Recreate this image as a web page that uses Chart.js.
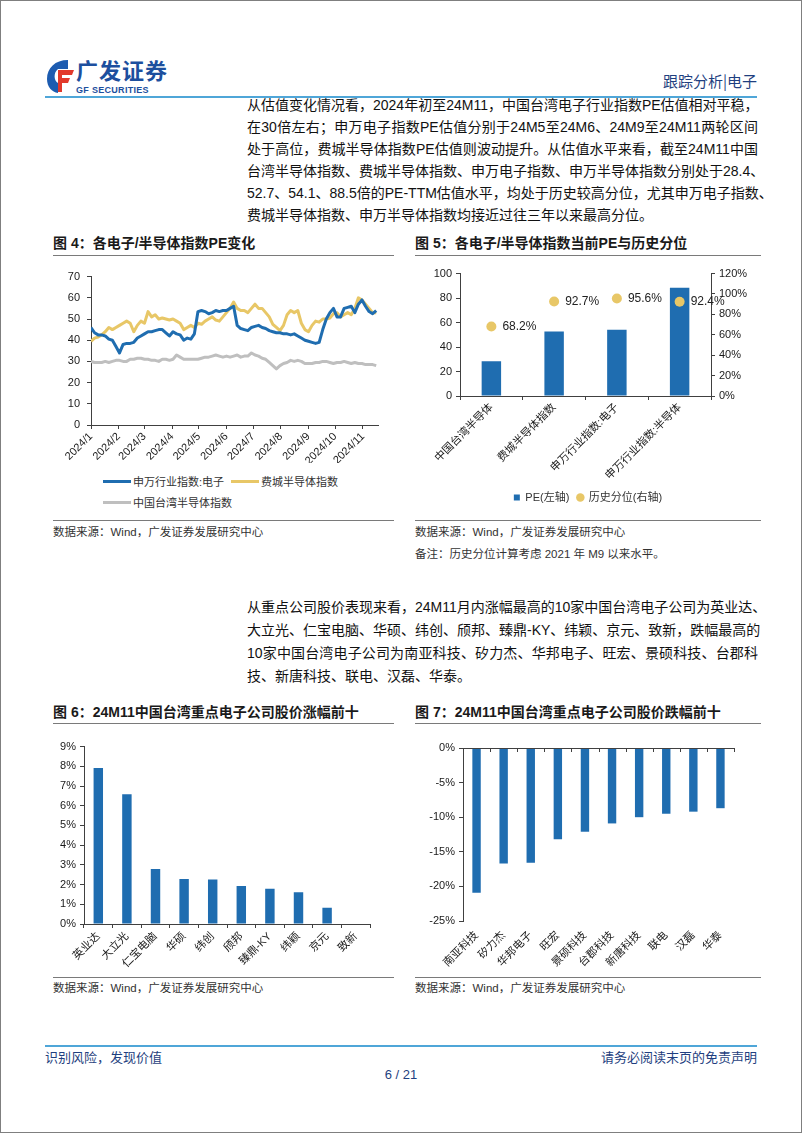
<!DOCTYPE html>
<html lang="zh-CN">
<head>
<meta charset="utf-8">
<title>跟踪分析|电子</title>
<script src="https://cdn.jsdelivr.net/npm/chart.js@4.4.1/dist/chart.umd.min.js"></script>
<style>
  html, body { margin: 0; padding: 0; background: #fff; }
  #page { position: relative; width: 800px; height: 1131px; border: 1px solid #7f7f7f; overflow: hidden;
          font-family: "Liberation Sans", "Noto Sans CJK SC", sans-serif; color: #111; }
  .a { position: absolute; white-space: nowrap; }
  .ln { position: absolute; left: 246px; width: 511px; height: 20px; font-size: 14px; line-height: 20px;
        white-space: nowrap; text-align: justify; text-align-last: justify; }
  .ln.last { text-align: left; text-align-last: left; }
  .ttl { position: absolute; font-size: 14px; font-weight: bold; line-height: 18px; color: #1a1a1a; white-space: nowrap; }
  .rule { position: absolute; height: 0; border-top: 1px solid #7a7a7a; }
  .src { position: absolute; font-size: 11.5px; line-height: 16px; color: #333; white-space: nowrap; }
  .blue { position: absolute; height: 2px; background: #4fa6d8; }
  .foot { position: absolute; font-size: 13px; line-height: 16px; color: #1f3f80; white-space: nowrap; }
  canvas { position: absolute; }
  #lg4 { position: absolute; left: 102px; top: 472px; display: grid; grid-template-columns: 128px 140px; row-gap: 5px;
         font-size: 11px; color: #333; }
  #lg4 .it { display: flex; align-items: center; height: 16px; white-space: nowrap; }
  #lg4 .sw { width: 28px; height: 3px; margin-right: 2px; flex: none; }
</style>
</head>
<body>
<div id="page">

  <!-- 页眉 -->
  <svg class="a" style="left:44px;top:57px" width="30" height="36" viewBox="0 0 30 36">
    <path d="M23 2 C10 2 2 10 2 21 C2 29 7 34 13 35 L13 25 C9 23 8 15 13 11 L23 11 Z" fill="#1d5cb0"/>
    <path d="M13 12 L29 12 L27 17 L17 17 L17 20 L25 20 L23 25 L17 25 L17 34 L13 34 Z" fill="#e2392b"/>
  </svg>
  <div class="a" style="left:75px;top:58px;font-size:22px;font-weight:bold;color:#1d4f9e;line-height:26px;letter-spacing:1px">广发证券</div>
  <div class="a" style="left:75px;top:84px;font-size:9px;font-weight:bold;color:#1d4f9e;line-height:10px;letter-spacing:0.3px">GF SECURITIES</div>
  <div class="a" style="left:662px;top:70px;font-size:15px;color:#1f3f80;line-height:20px;font-family:'Noto Sans CJK SC'">跟踪分析|电子</div>
  <div class="blue" style="left:44px;top:95px;width:712px"></div>

  <!-- 正文1 -->
  <div class="ln" style="top:94px">从估值变化情况看，2024年初至24M11，中国台湾电子行业指数PE估值相对平稳，</div>
  <div class="ln" style="top:116px">在30倍左右；申万电子指数PE估值分别于24M5至24M6、24M9至24M11两轮区间</div>
  <div class="ln" style="top:138px">处于高位，费城半导体指数PE估值则波动提升。从估值水平来看，截至24M11中国</div>
  <div class="ln" style="top:160px">台湾半导体指数、费城半导体指数、申万电子指数、申万半导体指数分别处于28.4、</div>
  <div class="ln" style="top:182px">52.7、54.1、88.5倍的PE-TTM估值水平，均处于历史较高分位，尤其申万电子指数、</div>
  <div class="ln last" style="top:204px">费城半导体指数、申万半导体指数均接近过往三年以来最高分位。</div>

  <!-- 图4 / 图5 标题 -->
  <div class="ttl" style="left:52px;top:233px">图 4：各电子/半导体指数PE变化</div>
  <div class="rule" style="left:52px;top:254px;width:341px"></div>
  <div class="ttl" style="left:414px;top:233px">图 5：各电子/半导体指数当前PE与历史分位</div>
  <div class="rule" style="left:414px;top:254px;width:346px"></div>

  <canvas id="c4" width="340" height="200" style="left:52px;top:262px"></canvas>
  <div id="lg4"></div>
  <canvas id="c5" width="346" height="250" style="left:414px;top:262px"></canvas>

  <div class="rule" style="left:52px;top:519px;width:341px"></div>
  <div class="src" style="left:52px;top:523px">数据来源：Wind，广发证券发展研究中心</div>
  <div class="rule" style="left:414px;top:519px;width:346px"></div>
  <div class="src" style="left:414px;top:523px">数据来源：Wind，广发证券发展研究中心</div>
  <div class="src" style="left:414px;top:545px">备注：历史分位计算考虑 2021 年 M9 以来水平。</div>

  <!-- 正文2 -->
  <div class="ln" style="top:596px">从重点公司股价表现来看，24M11月内涨幅最高的10家中国台湾电子公司为英业达、</div>
  <div class="ln" style="top:619px">大立光、仁宝电脑、华硕、纬创、颀邦、臻鼎-KY、纬颖、京元、致新，跌幅最高的</div>
  <div class="ln" style="top:642px">10家中国台湾电子公司为南亚科技、矽力杰、华邦电子、旺宏、景硕科技、台郡科</div>
  <div class="ln last" style="top:665px">技、新唐科技、联电、汉磊、华泰。</div>

  <!-- 图6 / 图7 -->
  <div class="ttl" style="left:52px;top:702px">图 6：24M11中国台湾重点电子公司股价涨幅前十</div>
  <div class="rule" style="left:52px;top:722px;width:341px"></div>
  <div class="ttl" style="left:414px;top:702px">图 7：24M11中国台湾重点电子公司股价跌幅前十</div>
  <div class="rule" style="left:414px;top:722px;width:346px"></div>

  <canvas id="c6" width="340" height="235" style="left:52px;top:735px"></canvas>
  <canvas id="c7" width="346" height="235" style="left:414px;top:735px"></canvas>

  <div class="rule" style="left:52px;top:976px;width:341px"></div>
  <div class="src" style="left:52px;top:979px">数据来源：Wind，广发证券发展研究中心</div>
  <div class="rule" style="left:414px;top:976px;width:346px"></div>
  <div class="src" style="left:414px;top:979px">数据来源：Wind，广发证券发展研究中心</div>

  <!-- 页脚 -->
  <div class="blue" style="left:44px;top:1044px;width:712px"></div>
  <div class="foot" style="left:44px;top:1049px">识别风险，发现价值</div>
  <div class="foot" style="right:44px;top:1049px">请务必阅读末页的免责声明</div>
  <div class="foot" style="left:0;width:800px;text-align:center;top:1066px">6 / 21</div>
</div>

<script>
// ------------------------------------------------------------
// 数据
// ------------------------------------------------------------

// 图4：横轴是2024年的第几天（1月1日 = 0）
var peDays = [0,4,8,12,16,20,24,28,32,36,40,44,48,52,56,60,64,68,72,76,
              80,84,88,92,96,100,104,108,112,116,120,124,128,132,136,140,144,148,152,156,
              160,164,168,172,176,180,184,188,192,196,200,204,208,212,216,220,224,228,232,236,
              240,244,248,252,256,260,264,268,272,276,280,284,288,292,296,300,304,308,312,316,320]
var peSwElec = [46,43.5,42.5,42.5,42,40.5,40,37,34,38,38.5,38.5,39,41,42,43,44,44,44.5,45,
                45,43.5,42,44,43,42.5,40,41,40.5,43,53.5,54,53.5,52.5,53,54,53.5,54,54,55,
                56,47,45.5,45,44.5,46,46.5,47,46,45.5,44.5,44,43.5,43.5,43,43,42.5,43,42,41,
                40,39.5,39,38.5,39,45,50,53,55,51,51,55,55.5,56,53,57,59,56,53.5,52.5,54]
var pePhilly = [39.5,41,41.5,42.5,44,46,45,46,47,48,49,48,44,47,49,48,53.5,51,52,50,
                50.5,50,49.5,50,49,48,45,46,47,46,48,47.5,49,50,51,49.5,49,51,53,55,
                58,55,54,54,53,55,57,55,55,53,51,47.5,46,44.5,47,52,54,53,54,48,
                45,44,47,49,48.5,50,50,50.5,52.5,53,51,52,53,52,55,60,59,57,55,53,53]
var peTwSemi = [30,29.5,29.5,29.5,30,29.5,30,30.5,30.5,30,30,31,31,31.5,31.5,31,31,30.5,30.5,30,
                31,31,30.5,31,33,32,31,31,31,31,31,31.5,32,32,32.5,33,32.5,32,32.5,32,
                32.5,33,32,32.5,32.5,34,33,32.5,31.5,31,29.5,28,26.5,28,29,29.5,30.5,30,30.5,30,
                29,29,29,29.5,29.5,30,30,29.5,29,29.5,29.5,30,29.5,29,29.5,29,29,28.5,28.5,28.5,28]
var monthStarts = [0,31,60,91,121,152,182,213,244,274,305]
var monthNames = ['2024/1','2024/2','2024/3','2024/4','2024/5','2024/6','2024/7','2024/8','2024/9','2024/10','2024/11']
var peNames = ['申万行业指数:电子','费城半导体指数','中国台湾半导体指数']

// 图5：当前PE与历史分位
var idxNames = ['中国台湾半导体','费城半导体指数','申万行业指数:电子','申万行业指数:半导体']
var idxPE = [28.4, 52.7, 54.1, 88.5]
var idxPct = [68.2, 92.7, 95.6, 92.4]

// 图6：涨幅前十（%）
var upNames = ['英业达','大立光','仁宝电脑','华硕','纬创','颀邦','臻鼎-KY','纬颖','京元','致新']
var upPct = [7.92, 6.58, 2.79, 2.28, 2.26, 1.93, 1.79, 1.61, 0.82, 0.02]

// 图7：跌幅前十（%）
var downNames = ['南亚科技','矽力杰','华邦电子','旺宏','景硕科技','台郡科技','新唐科技','联电','汉磊','华泰']
var downPct = [-20.9, -16.7, -16.6, -13.2, -12.1, -10.9, -10.0, -9.5, -9.2, -8.7]

// 颜色
var blue = '#1f6db0'
var gold = '#e8c767'
var grey = '#bfbfbf'
var axisCol = '#404040'

Chart.defaults.font.family = '"Liberation Sans", "Noto Sans CJK SC", sans-serif'
Chart.defaults.font.size = 11
Chart.defaults.color = '#1a1a1a'
Chart.defaults.animation = false
Chart.defaults.plugins.tooltip.enabled = false

// 坐标轴的小刻度线，不画网格
var axisGrid = { drawOnChartArea: false, color: axisCol, tickLength: 4 }
var axisBorder = { color: axisCol, width: 1 }

// ------------------------------------------------------------
// 图4 折线
// ------------------------------------------------------------
function toPoints(values) {
    return peDays.map(function (d, i) { return { x: d, y: values[i] } })
}
var lineCols = [blue, gold, grey]
var c4 = new Chart(document.getElementById('c4'), {
    type: 'line',
    data: {
        datasets: [peSwElec, pePhilly, peTwSemi].map(function (vals, i) {
            return {
                label: peNames[i], data: toPoints(vals), borderColor: lineCols[i],
                borderWidth: 3, pointRadius: 0, tension: 0, borderJoinStyle: 'round'
            }
        })
    },
    options: {
        responsive: false,
        layout: { padding: { top: 10, right: 15 } },
        plugins: { legend: { display: false } },
        scales: {
            x: {
                type: 'linear', min: 0, max: 322,
                afterBuildTicks: function (s) { s.ticks = monthStarts.map(function (v) { return { value: v } }) },
                ticks: { autoSkip: false, maxRotation: 45, minRotation: 45, padding: 1,
                         callback: function (v) { return monthNames[monthStarts.indexOf(v)] } },
                grid: axisGrid, border: axisBorder,
                afterFit: function (s) { s.height = 38 }
            },
            y: {
                min: 0, max: 70, ticks: { stepSize: 10, padding: 7 },
                grid: axisGrid, border: axisBorder,
                afterFit: function (s) { s.width = 38 }
            }
        }
    }
})

// 图4 图例（两列排布，第三项换行靠左）
var lg4 = document.getElementById('lg4')
c4.data.datasets.forEach(function (ds) {
    var it = document.createElement('div')
    it.className = 'it'
    it.innerHTML = '<span class="sw" style="background:' + ds.borderColor + '"></span>' + ds.label
    lg4.appendChild(it)
})

// ------------------------------------------------------------
// 图5 柱 + 散点（双轴）
// ------------------------------------------------------------
var pctLabels = {
    id: 'pctLabels',
    afterDatasetsDraw: function (chart) {
        var ctx = chart.ctx
        var meta = chart.getDatasetMeta(0)
        ctx.save()
        ctx.font = '12px "Liberation Sans", sans-serif'
        ctx.fillStyle = '#222'
        ctx.textBaseline = 'middle'
        meta.data.forEach(function (pt, i) {
            ctx.fillText(idxPct[i].toFixed(1) + '%', pt.x + 11, pt.y)
        })
        ctx.restore()
    }
}
new Chart(document.getElementById('c5'), {
    type: 'bar',
    data: {
        labels: idxNames,
        datasets: [
            { type: 'line', label: '历史分位(右轴)', data: idxPct, yAxisID: 'y2', showLine: false,
              pointRadius: 5, pointBackgroundColor: gold, pointBorderWidth: 0, backgroundColor: gold,
              borderColor: gold, pointStyle: 'circle' },
            { type: 'bar', label: 'PE(左轴)', data: idxPE, yAxisID: 'y', backgroundColor: blue,
              barPercentage: 0.31, categoryPercentage: 1, pointStyle: 'rect' }
        ]
    },
    options: {
        responsive: false,
        layout: { padding: { top: 10 } },
        plugins: {
            legend: { position: 'bottom', reverse: true,
                      labels: { usePointStyle: true, boxWidth: 6, boxHeight: 6, padding: 8, color: '#333' } }
        },
        scales: {
            x: {
                ticks: { autoSkip: false, maxRotation: 45, minRotation: 45, padding: 1 },
                grid: Object.assign({ offset: true }, axisGrid), border: axisBorder,
                afterFit: function (s) { s.height = 88 }
            },
            y: {
                position: 'left', min: 0, max: 100, ticks: { stepSize: 20, padding: 4 },
                grid: axisGrid, border: axisBorder,
                afterFit: function (s) { s.width = 45 }
            },
            y2: {
                position: 'right', min: 0, max: 120,
                ticks: { stepSize: 20, padding: 4, callback: function (v) { return v + '%' } },
                grid: axisGrid, border: axisBorder,
                afterFit: function (s) { s.width = 50 }
            }
        }
    },
    plugins: [pctLabels]
})

// ------------------------------------------------------------
// 图6 涨幅前十
// ------------------------------------------------------------
new Chart(document.getElementById('c6'), {
    type: 'bar',
    data: { labels: upNames,
            datasets: [{ data: upPct, backgroundColor: blue, barPercentage: 0.33, categoryPercentage: 1 }] },
    options: {
        responsive: false,
        layout: { padding: { top: 9, right: 23 } },
        plugins: { legend: { display: false } },
        scales: {
            x: {
                ticks: { autoSkip: false, maxRotation: 45, minRotation: 45, padding: 2 },
                grid: Object.assign({ offset: true }, axisGrid), border: axisBorder,
                afterFit: function (s) { s.height = 47 }
            },
            y: {
                min: 0, max: 9,
                ticks: { stepSize: 1, padding: 4, callback: function (v) { return v + '%' } },
                grid: axisGrid, border: axisBorder,
                afterFit: function (s) { s.width = 31 }
            }
        }
    }
})

// ------------------------------------------------------------
// 图7 跌幅前十（0轴在顶部，标签在底部）
// ------------------------------------------------------------
var zeroAxis = {
    id: 'zeroAxis',
    afterDatasetsDraw: function (chart) {
        var ctx = chart.ctx, xs = chart.scales.x, ys = chart.scales.y
        var y0 = ys.getPixelForValue(0)
        var n = downNames.length
        ctx.save()
        ctx.strokeStyle = axisCol
        ctx.lineWidth = 1
        ctx.beginPath()
        ctx.moveTo(xs.left, y0 + 0.5)
        ctx.lineTo(xs.right, y0 + 0.5)
        for (var i = 0; i <= n; i++) {
            var px = Math.round(xs.left + (xs.right - xs.left) * i / n) + 0.5
            ctx.moveTo(px, y0)
            ctx.lineTo(px, y0 + 4)
        }
        ctx.stroke()
        ctx.restore()
    }
}
new Chart(document.getElementById('c7'), {
    type: 'bar',
    data: { labels: downNames,
            datasets: [{ data: downPct, backgroundColor: blue, barPercentage: 0.31, categoryPercentage: 1 }] },
    options: {
        responsive: false,
        layout: { padding: { top: 12, right: 27 } },
        plugins: { legend: { display: false } },
        scales: {
            x: {
                ticks: { autoSkip: false, maxRotation: 45, minRotation: 45, padding: 8 },
                grid: { display: false, drawTicks: false }, border: { display: false },
                afterFit: function (s) { s.height = 50 }
            },
            y: {
                min: -25, max: 0,
                ticks: { stepSize: 5, padding: 4, callback: function (v) { return v + '%' } },
                grid: axisGrid, border: axisBorder,
                afterFit: function (s) { s.width = 48 }
            }
        }
    },
    plugins: [zeroAxis]
})
</script>
</body>
</html>
